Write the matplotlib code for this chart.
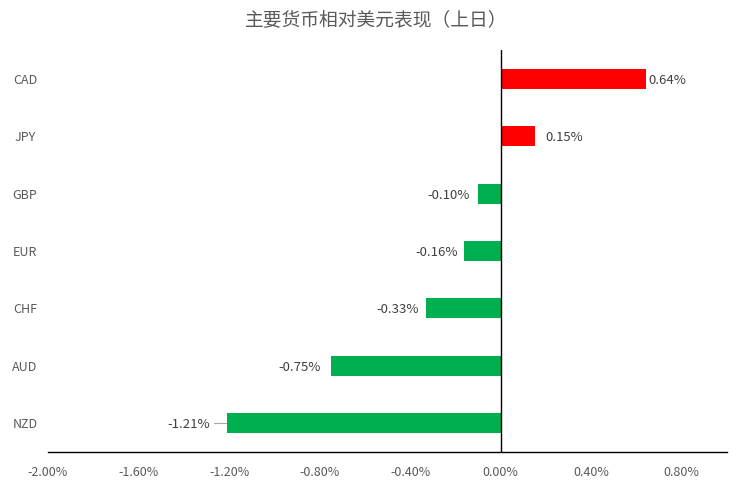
import numpy as np
import matplotlib
matplotlib.use('Agg')
import matplotlib.pyplot as plt

plt.rcParams['font.family'] = ['Noto Sans CJK SC', 'DejaVu Sans']

currencies = ['CAD', 'JPY', 'GBP', 'EUR', 'CHF', 'AUD', 'NZD']
change_pct = [0.64, 0.15, -0.10, -0.16, -0.33, -0.75, -1.21]
x_ticks = [-2.0, -1.6, -1.2, -0.8, -0.4, 0.0, 0.4, 0.8]

# label nudges in points (the reference moved some labels by hand)
label_dx = [2, 8, -6, -5, -5, -7, -12]

gray = '#595959'

fig = plt.figure(figsize=(7.52, 4.91), dpi=100)
ax = fig.add_axes([48 / 752, 1 - 452 / 491, (727 - 48) / 752, (452 - 50) / 491])

ypos = np.arange(len(currencies))
colors = ['#FF0000' if v > 0 else '#00B050' for v in change_pct]
ax.barh(ypos, change_pct, height=0.35, color=colors, zorder=2)

ax.set_xlim(-2.0, 1.0)
ax.set_ylim(len(currencies) - 0.5, -0.5)

ax.axvline(0, color='black', lw=1, zorder=3)

for s in ['top', 'right', 'left']:
    ax.spines[s].set_visible(False)
ax.spines['bottom'].set_color('black')
ax.spines['bottom'].set_linewidth(1)

ax.set_xticks(x_ticks)
ax.set_xticklabels(['%.2f%%' % t for t in x_ticks], fontsize=9, color=gray)
ax.tick_params(axis='x', length=0, pad=10)

ax.set_yticks(ypos)
ax.set_yticklabels(currencies, fontsize=9, color=gray)
ax.tick_params(axis='y', length=0, pad=16.5)
for lab in ax.get_yticklabels():
    lab.set_horizontalalignment('center')
    lab.set_verticalalignment('center_baseline')

for i, v in enumerate(change_pct):
    txt = '%.2f%%' % v
    ha = 'left' if v > 0 else 'right'
    ax.annotate(txt, (v, i), xytext=(label_dx[i], 0), textcoords='offset points',
                ha=ha, va='center_baseline', fontsize=9.5, color='#404040')

# leader line for the NZD label
ax.plot([change_pct[6] - 0.055, change_pct[6]], [6, 6], color='#a6a6a6', lw=0.8, zorder=1)

fig.text(0.5, 1 - 20 / 491, '主要货币相对美元表现（上日）', ha='center', va='center',
         fontsize=13.5, color=gray)

fig.savefig('out.png', dpi=100)
